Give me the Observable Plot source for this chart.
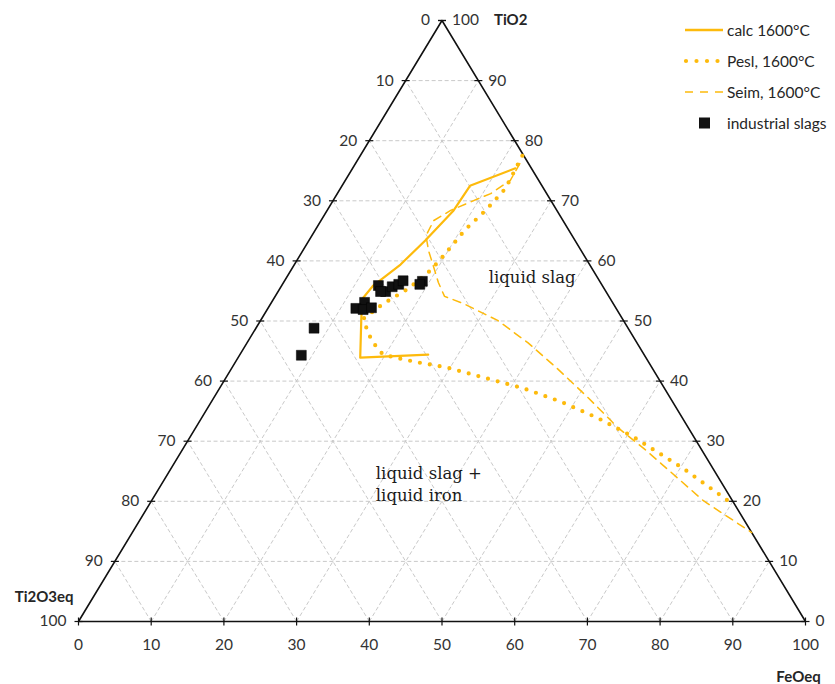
<!DOCTYPE html>
<html><head><meta charset="utf-8">
<script src="https://cdn.jsdelivr.net/npm/d3@7"></script>
<script src="https://cdn.jsdelivr.net/npm/@observablehq/plot@0.6"></script>
<style>
body{margin:0;background:#fff;}
#wrap{position:relative;width:835px;height:684px;}
#legend{position:absolute;left:683px;top:14px;font-family:Lato,sans-serif;font-size:15.5px;color:#262626;}
.row{display:flex;align-items:center;height:31px;white-space:nowrap;}
.row svg{width:42px;height:14px;margin-right:2px;flex:none;}
</style></head><body><div id="wrap"><div id="legend"></div></div>
<script>
const ORANGE = "#FDBA0C";

// Compositions in wt% (Ti2O3eq = 100 - TiO2 - FeOeq)
const calcTiO2 = [75.4, 72.5, 68.4, 63.4, 59.4, 55.9, 53.7, 50.4, 43.9, 44.4];
const calcFeO  = [22.4, 17.6, 17.4, 16.0, 14.6, 12.6, 12.2, 13.7, 16.8, 25.9];

const peslTiO2 = [77.5, 72.0, 68.4, 65.2, 60.9, 58.4, 55.4, 52.9, 50.4, 47.9, 45.8, 44.4, 43.8, 43.1, 42.3, 40.6, 38.8, 36.6, 33.9, 30.8, 25.5, 19.6];
const peslFeO  = [22.3, 22.7, 21.8, 20.6, 19.8, 19.2, 17.7, 15.5, 14.0, 15.9, 18.0, 19.7, 22.1, 25.2, 29.4, 35.4, 41.8, 48.0, 54.4, 60.8, 70.4, 80.1];

const seimTiO2 = [76.2, 73.4, 71.2, 69.6, 68.4, 66.7, 64.2, 61.7, 59.2, 56.4, 54.1, 52.9, 50.1, 46.4, 42.1, 37.3, 32.3, 28.5, 20.1, 14.8];
const seimFeO  = [22.6, 22.7, 21.1, 18.7, 17.0, 15.5, 15.7, 17.3, 19.2, 21.3, 23.3, 26.5, 32.6, 38.6, 44.8, 51.4, 58.0, 63.8, 75.9, 85.2];

const slagTiO2 = [55.9, 54.9, 55.7, 56.1, 56.7, 56.6, 56.1, 53.1, 52.1, 51.9, 52.2, 54.9, 48.8, 44.3];
const slagFeO  = [13.3, 14.8, 15.3, 16.0, 16.3, 19.0, 18.9, 12.8, 12.1, 13.2, 14.2, 14.1, 8.0, 8.5];

const tickValues = [0, 10, 20, 30, 40, 50, 60, 70, 80, 90, 100];
const gridValues = [10, 20, 30, 40, 50, 60, 70, 80, 90];

const seriesNames = ["calc 1600°C", "Pesl, 1600°C", "Seim, 1600°C", "industrial slags"];
const regionLabel1 = "liquid slag";
const regionLabel2 = "liquid slag +\nliquid iron";
const region1 = {t: 57.2, f: 33.8};
const region2 = {t: 23.0, f: 29.4};

// ternary projection: (TiO2, FeO) -> cartesian in unit triangle
const X = d => d.f / 100 + d.t / 200;
const Y = d => d.t / 100;
const pts = (T, F) => T.map((t, i) => ({t, f: F[i]}));

const grid = [];
for (const k of gridValues) {
  grid.push({a: {t: k, f: 0}, b: {t: k, f: 100 - k}});
  grid.push({a: {t: 0, f: k}, b: {t: 100 - k, f: k}});
  grid.push({a: {t: 0, f: 100 - k}, b: {t: 100 - k, f: 0}});
}
const frame = [{t: 0, f: 0}, {t: 0, f: 100}, {t: 100, f: 0}, {t: 0, f: 0}];

const bottomTicks = tickValues.map(k => ({t: 0, f: k, label: k}));
const leftTicks = tickValues.map(k => ({t: 100 - k, f: 0, label: k}));
const rightTicks = tickValues.map(k => ({t: k, f: 100 - k, label: k}));

const hTick = {draw(ctx, size) { const r = Math.sqrt(size / Math.PI); ctx.moveTo(-r, 0); ctx.lineTo(r, 0); }};
const vTick = {draw(ctx, size) { const r = Math.sqrt(size / Math.PI); ctx.moveTo(0, -r); ctx.lineTo(0, r); }};

const labelFill = "#333";
const serif = "'DejaVu Serif', serif";

const chart = Plot.plot({
  width: 835, height: 684,
  marginLeft: 78, marginRight: 30, marginTop: 20, marginBottom: 63,
  x: {domain: [0, 1], axis: null},
  y: {domain: [0, 1], axis: null},
  style: {fontFamily: "Lato, sans-serif", fontSize: "15.5px", background: "white", overflow: "visible"},
  marks: [
    Plot.link(grid, {x1: d => X(d.a), y1: d => Y(d.a), x2: d => X(d.b), y2: d => Y(d.b),
      stroke: "#c9c9c9", strokeWidth: 1, strokeDasharray: "4 2.5"}),
    Plot.line(frame, {x: X, y: Y, stroke: "#111", strokeWidth: 1.6}),
    Plot.dot(bottomTicks, {x: X, y: Y, symbol: vTick, r: 4, stroke: "#111", strokeWidth: 1.2}),
    Plot.dot(leftTicks, {x: X, y: Y, symbol: hTick, r: 4, stroke: "#111", strokeWidth: 1.2}),
    Plot.dot(rightTicks, {x: X, y: Y, symbol: hTick, r: 4, stroke: "#111", strokeWidth: 1.2}),
    Plot.text(bottomTicks, {x: X, y: Y, text: "label", dy: 24, fill: labelFill}),
    Plot.text(leftTicks, {x: X, y: Y, text: "label", dx: -12, textAnchor: "end", fill: labelFill}),
    Plot.text(rightTicks, {x: X, y: Y, text: "label", dx: 10, textAnchor: "start", fill: labelFill}),
    Plot.text([{t: 100, f: 0}], {x: X, y: Y, text: () => "TiO2", dx: 52, textAnchor: "start", fontWeight: "bold", fill: "#262626", fontSize: 15}),
    Plot.text([{t: 0, f: 0}], {x: X, y: Y, text: () => "Ti2O3eq", dx: -5, dy: -24, textAnchor: "end", fontWeight: "bold", fill: "#262626", fontSize: 15}),
    Plot.text([{t: 0, f: 100}], {x: X, y: Y, text: () => "FeOeq", dx: -7, dy: 56, fontWeight: "bold", fill: "#262626", fontSize: 15}),
    Plot.line(pts(seimTiO2, seimFeO), {x: X, y: Y, stroke: ORANGE, strokeWidth: 1.5, strokeDasharray: "8 6"}),
    Plot.line(pts(peslTiO2, peslFeO), {x: X, y: Y, stroke: ORANGE, strokeWidth: 4.2, strokeDasharray: "0 10", strokeLinecap: "round"}),
    Plot.line(pts(calcTiO2, calcFeO), {x: X, y: Y, stroke: ORANGE, strokeWidth: 2.2}),
    Plot.dot(pts(slagTiO2, slagFeO), {x: X, y: Y, symbol: "square", r: 5.6, fill: "#111", stroke: "#000", strokeWidth: 0.5}),
    Plot.text([region1], {x: X, y: Y, text: () => regionLabel1, fill: "#1a1a1a",
      fontFamily: serif, fontSize: 16.5, textAnchor: "middle"}),
    Plot.text([region2], {x: X, y: Y, text: () => regionLabel2, fill: "#1a1a1a",
      fontFamily: serif, fontSize: 16.5, textAnchor: "start", lineHeight: 1.3})
  ]
});
document.getElementById("wrap").prepend(chart);

// legend
const swatches = [
  `<line x1="2" y1="7" x2="40" y2="7" stroke="${ORANGE}" stroke-width="2.5"/>`,
  `<line x1="3" y1="7" x2="40" y2="7" stroke="${ORANGE}" stroke-width="4.2" stroke-dasharray="0 10.5" stroke-linecap="round"/>`,
  `<line x1="2" y1="7" x2="40" y2="7" stroke="${ORANGE}" stroke-width="1.6" stroke-dasharray="8 7"/>`,
  `<rect x="16" y="1.5" width="11" height="11" fill="#111"/>`
];
const legend = document.getElementById("legend");
seriesNames.forEach((name, i) => {
  const row = document.createElement("div");
  row.className = "row";
  row.innerHTML = `<svg viewBox="0 0 42 14">${swatches[i]}</svg><span>${name}</span>`;
  legend.appendChild(row);
});
</script></body></html>
